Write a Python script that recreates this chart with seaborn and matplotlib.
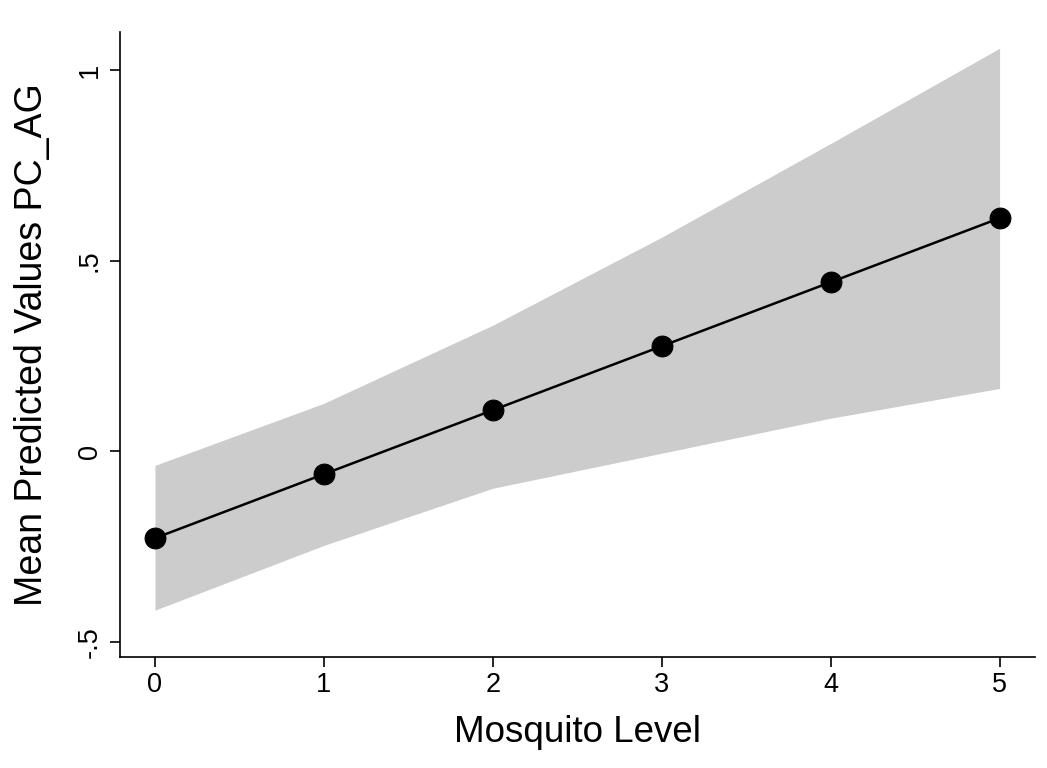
import numpy as np
import pandas as pd
import matplotlib
matplotlib.use("Agg")
import matplotlib.pyplot as plt
import seaborn as sns

# values
mosquito_level = [0, 1, 2, 3, 4, 5]
mean_pred = [-0.228, -0.060, 0.108, 0.276, 0.444, 0.612]
ci_upper = [-0.037, 0.126, 0.331, 0.562, 0.808, 1.058]
ci_lower = [-0.417, -0.247, -0.097, -0.005, 0.087, 0.165]

y_ticks = [-0.5, 0, 0.5, 1]
y_tick_labels = ["-.5", "0", ".5", "1"]

df = pd.DataFrame({"level": mosquito_level, "pred": mean_pred,
                   "lo": ci_lower, "hi": ci_upper})

sns.set_style("white")
plt.rcParams['font.family'] = ['Liberation Sans', 'DejaVu Sans']

fig = plt.figure(figsize=(10.47, 7.68), dpi=100)
ax = fig.add_axes([0.1146, 0.1445, 0.874, 0.8135])

ax.fill_between(df["level"], df["lo"], df["hi"], color="#cccccc", linewidth=0, zorder=1)
sns.lineplot(data=df, x="level", y="pred", ax=ax, color="black", linewidth=1.8,
             marker="o", markersize=15, markeredgecolor="black", zorder=3)

ax.set_xlim(-0.207, 5.21)
ax.set_ylim(-0.54, 1.10)
ax.set_xticks(mosquito_level)
ax.set_yticks(y_ticks)
ax.set_yticklabels(y_tick_labels, rotation=90, va="center")
ax.tick_params(axis="both", bottom=True, left=True, direction="out", length=7.5,
               width=1.2, color="black", labelcolor="black", labelsize=19.5)
ax.tick_params(axis="x", pad=3)
ax.tick_params(axis="y", pad=5)

for s in ["top", "right"]:
    ax.spines[s].set_visible(False)
for s in ["left", "bottom"]:
    ax.spines[s].set_color("black")
    ax.spines[s].set_linewidth(1.2)

ax.set_xlabel("Mosquito Level", fontsize=26.5, color="black")
ax.set_ylabel("Mean Predicted Values PC_AG", fontsize=27, color="black")
ax.xaxis.set_label_coords(0.5, -0.093)
ax.yaxis.set_label_coords(-0.0765, 0.5)

fig.savefig("out.png", dpi=100, facecolor="white")
